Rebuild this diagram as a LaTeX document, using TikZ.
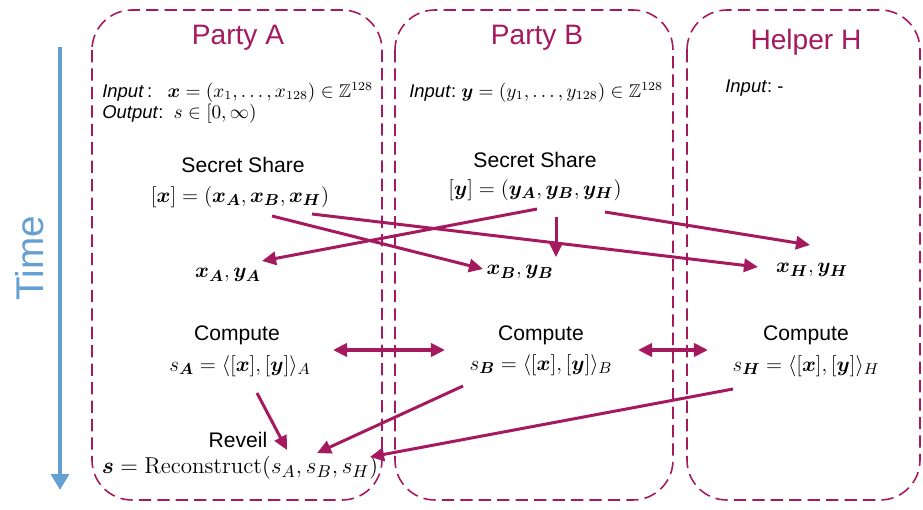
\documentclass[tikz,border=0pt]{standalone}
\usepackage[no-math]{fontspec}
\usepackage{amsmath,amssymb,bm}
\setsansfont{Liberation Sans}
\usetikzlibrary{arrows.meta,positioning}

\definecolor{plum}{RGB}{165,25,95}
\definecolor{timeblue}{RGB}{100,160,210}

\tikzset{
  partybox/.style={draw=plum, line width=0.9pt, dash pattern=on 7pt off 3.5pt, rounded corners=0.8cm},
  title/.style={text=plum, font=\sffamily\fontsize{16}{18}\selectfont},
  lbl/.style={font=\sffamily\fontsize{12}{14}\selectfont, inner sep=1pt},
  eq/.style={font=\fontsize{13}{15}\selectfont, inner sep=1pt},
  inp/.style={font=\sffamily\fontsize{10.5}{12}\selectfont, inner sep=0pt, anchor=west},
  share/.style={-{Triangle[length=8pt,width=7.5pt]}, line width=1.7pt, plum},
  exchange/.style={{Triangle[length=8pt,width=7.5pt]}-{Triangle[length=8pt,width=7.5pt]}, line width=2pt, draw=plum},
  timearrow/.style={-{Triangle[length=9pt,width=10pt]}, line width=2.8pt, timeblue},
}

\begin{document}
\begin{tikzpicture}[x=0.02cm, y=-0.02cm]
    \useasboundingbox (0,0) rectangle (923,510);

    % time axis
    \coordinate (tstart) at (60,47);
    \coordinate (tend) at (60,490);
    \draw[timearrow] (tstart) -- (tend);
    \node[rotate=90, text=timeblue, font=\sffamily\fontsize{22}{24}\selectfont] (time) at (30,258) {Time};

    % parties
    \draw[partybox] (92,10) rectangle (382,500);
    \draw[partybox] (395,10) rectangle (673,500);
    \draw[partybox] (687,10) rectangle (920,500);

    \node[title] (tA) at (238,38) {Party A};
    \node[title] (tB) at (537,38) {Party B};
    \node[title] (tH) at (806,42) {Helper H};

    \node[inp] (inA) at (102,92) {\textit{Input}\,:\ \ \ $\bm{x}=(x_1,\dots,x_{128})\in\mathbb{Z}^{128}$};
    \node[inp] (outA) at (102,114) {\textit{Output}:\ \ $s\in[0,\infty)$};
    \node[inp] (inB) at (409,92) {\textit{Input}:\ $\bm{y}=(y_1,\dots,y_{128})\in\mathbb{Z}^{128}$};
    \node[inp] (inH) at (725,88) {\textit{Input}:\ -};

    % secret sharing
    \node[lbl] (ssA) at (243,165) {Secret Share};
    \node[eq] (shx) at (240,197) {$[\bm{x}]=(\bm{x_A},\bm{x_B},\bm{x_H})$};
    \node[lbl] (ssB) at (535,160) {Secret Share};
    \node[eq] (shy) at (535,190) {$[\bm{y}]=(\bm{y_A},\bm{y_B},\bm{y_H})$};

    \node[eq] (rA) at (228,275) {$\bm{x_A},\bm{y_A}$};
    \node[eq] (rB) at (520,272) {$\bm{x_B},\bm{y_B}$};
    \node[eq] (rH) at (812,270) {$\bm{x_H},\bm{y_H}$};

    \draw[share] ([shift={(32,19)}]shx.center) -- ([shift={(-37,-3)}]rB.center);
    \draw[share] ([shift={(72,17)}]shx.center) -- ([shift={(-54,-3)}]rH.center);
    \draw[share] ([shift={(2,19)}]shy.center) -- ([shift={(34,-14)}]rA.center);
    \draw[share] ([shift={(21,27)}]shy.center) -- ([shift={(36,-15)}]rB.center);
    \draw[share] ([shift={(70,22)}]shy.center) -- ([shift={(-2,-25)}]rH.center);

    % local computation
    \node[lbl] (cA) at (237,335) {Compute};
    \node[eq] (sA) at (240,366) {$s_{\bm{A}}=\langle[\bm{x}],[\bm{y}]\rangle_A$};
    \node[lbl] (cB) at (541,335) {Compute};
    \node[eq] (sB) at (541,365) {$s_{\bm{B}}=\langle[\bm{x}],[\bm{y}]\rangle_B$};
    \node[lbl] (cH) at (806,335) {Compute};
    \node[eq] (sH) at (806,366) {$s_{\bm{H}}=\langle[\bm{x}],[\bm{y}]\rangle_H$};

    \draw[exchange] ([shift={(93,-16)}]sA.center) -- ([shift={(-96,-15)}]sB.center);
    \draw[exchange] ([shift={(97,-15)}]sB.center) -- ([shift={(-98,-16)}]sH.center);

    % reveal
    \node[lbl] (rv) at (238,440) {Reveil};
    \node[eq] (rec) at (240,468) {\scalebox{1.09}{$\bm{s}=\mathrm{Reconstruct}(s_A,s_B,s_H)$}};

    \draw[share] ([shift={(17,27)}]sA.center) -- ([shift={(47,-18)}]rec.center);
    \draw[share] ([shift={(-78,21)}]sB.center) -- ([shift={(77,-15)}]rec.center);
    \draw[share] ([shift={(-73,23)}]sH.center) -- ([shift={(130,-11)}]rec.center);
\end{tikzpicture}
\end{document}
